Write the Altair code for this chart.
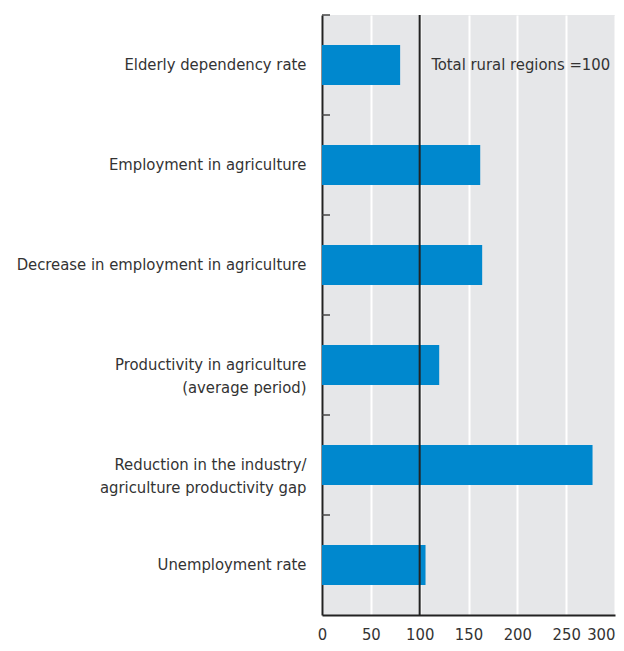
import altair as alt
import pandas as pd

categories = [
    "Elderly dependency rate\u00a0",
    "Employment in agriculture",
    "Decrease in employment in agriculture",
    "Productivity in agriculture|(average period)",
    "Reduction in the industry/|agriculture productivity gap",
    "Unemployment rate\u00a0",
]
values = [80, 162, 164, 120, 277, 106]
x_ticks = [0, 50, 100, 150, 200, 250, 300]
ref_value = 100
note_text = "Total rural regions =100"
note_x = 112

FONT = "Liberation Sans Narrow, DejaVu Sans Condensed, sans-serif"
TXT = "#333333"

df = pd.DataFrame({"cat": categories, "val": values})

yaxis = alt.Axis(
    labelExpr="split(datum.label, '|')",
    labelFont=FONT,
    labelFontSize=16.5,
    labelColor=TXT,
    labelPadding=16,
    labelLimit=400,
    labelLineHeight=23,
    ticks=False,
    domainColor="#222222",
    domainWidth=2,
    minExtent=314,
    maxExtent=314,
    title=None,
)

yscale = alt.Scale(domain=categories, paddingInner=0.6, paddingOuter=0.3)
xscale = alt.Scale(domain=[0, 300], nice=False)

xaxis = alt.Axis(
    values=x_ticks,
    labelFont=FONT,
    labelFontSize=16.5,
    labelColor=TXT,
    labelPadding=11,
    tickSize=0,
    domainColor="#222222",
    domainWidth=2,
    grid=True,
    gridColor="white",
    gridWidth=2,
    title=None,
    labelAlign=alt.expr("datum.value == 300 ? 'right' : 'center'"),
)

bars = alt.Chart(df).mark_bar(color="#0088CE").encode(
    x=alt.X("val:Q", scale=xscale, axis=xaxis, title=None),
    y=alt.Y("cat:N", scale=yscale, axis=yaxis, title=None, sort=None),
)

# small inward ticks at the category boundaries on the y axis
yticks = alt.Chart(pd.DataFrame({"cat": categories})).mark_rule(
    color="#444444", strokeWidth=1.5, yOffset=alt.expr("-0.75 * bandwidth('y')")
).encode(
    y=alt.Y("cat:N", scale=yscale, bandPosition=0, title=None, sort=None),
    x=alt.value(0),
    x2=alt.value(8),
)

ref = alt.Chart(pd.DataFrame({"v": [ref_value]})).mark_rule(
    color="#222222", strokeWidth=2
).encode(x=alt.X("v:Q", scale=xscale, title=None))

note = alt.Chart(
    pd.DataFrame({"t": [note_text], "x": [note_x], "cat": [categories[0]]})
).mark_text(
    align="left", baseline="middle", font=FONT, fontSize=16.5, color=TXT
).encode(
    x=alt.X("x:Q", scale=xscale, title=None),
    y=alt.Y("cat:N", scale=yscale, title=None, sort=None),
    text="t:N",
)

chart = (
    alt.layer(bars, yticks, ref, note)
    .properties(
        width=608,
        height=635,
        autosize=alt.AutoSizeParams(type="fit", contains="padding"),
        padding={"left": 0, "top": 6, "right": 0, "bottom": 0},
        background="white",
    )
    .configure_view(fill="#E6E7E9", stroke=None)
)

chart.save("out.html", embed_options={"renderer": "svg", "actions": False})
